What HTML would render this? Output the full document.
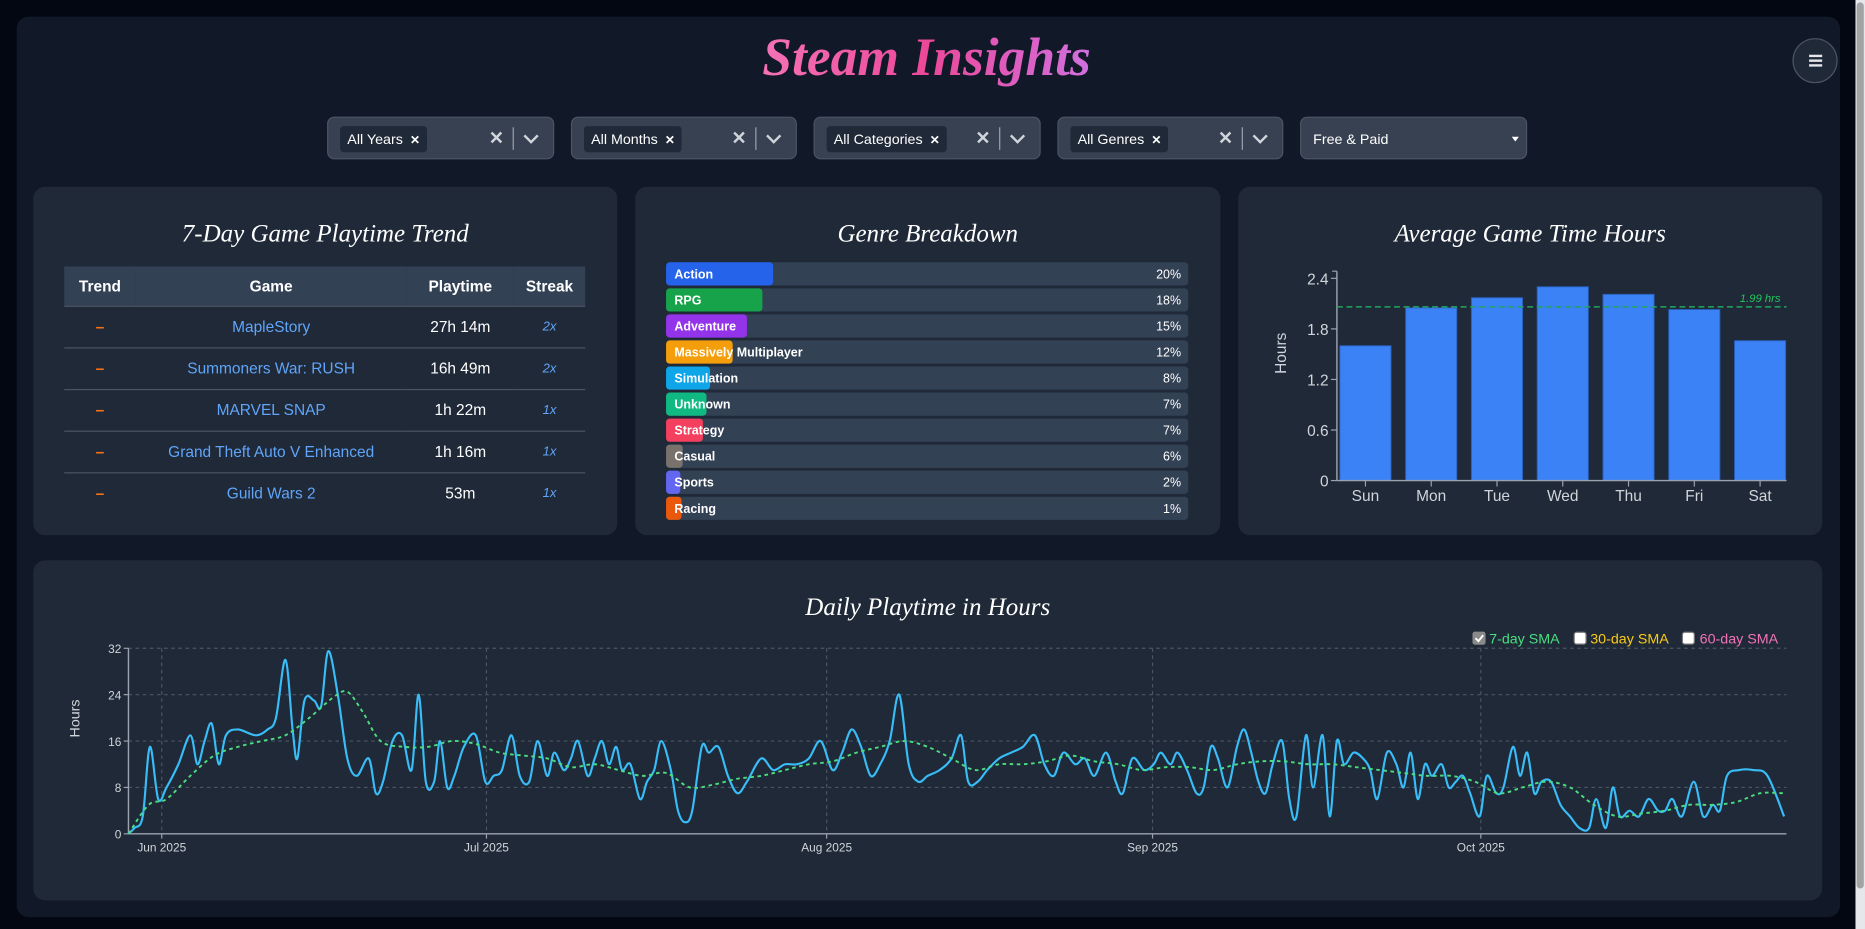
<!DOCTYPE html>
<html><head><meta charset="utf-8">
<style>
html,body{margin:0;padding:0;background:#030712;overflow:hidden;width:1865px;height:929px}
#stage{position:absolute;left:0;top:0;width:1568px;height:781px;transform:scale(1.18941,1.1895);transform-origin:0 0;font-family:"Liberation Sans",sans-serif;color:#fff}
.abs{position:absolute}
.panel{position:absolute;background:#1f2937;border-radius:10px}
.ptitle{position:absolute;left:0;right:0;text-align:center;font-family:"Liberation Serif",serif;font-style:italic;font-size:21px;color:#fff}
.filter{position:absolute;top:98px;height:36px;background:#374151;border:1px solid #4b5563;border-radius:6px;box-sizing:border-box}
.chip{position:absolute;left:10px;top:7px;height:22px;background:#1f2937;border-radius:3px;font-size:12px;line-height:22px;padding:0 6px;color:#fff}
.chip b{font-size:10px;margin-left:6px}
.clr{position:absolute;top:8px;font-size:15px;color:#d1d5db;font-weight:bold}
.sep{position:absolute;top:8px;width:1px;height:19px;background:#9ca3af}
.chev{position:absolute;top:11px;width:7px;height:7px;border-right:2px solid #d1d5db;border-bottom:2px solid #d1d5db;transform:rotate(45deg)}
table{border-collapse:collapse;font-size:13px}
td,th{text-align:center;padding:0}
.row td{height:34px;border-top:1px solid #4b5563}
</style></head><body>
<div id="stage">
<div class="abs" style="left:14px;top:14px;width:1533px;height:757px;background:#111827;border-radius:10px"></div>
<div class="abs" style="left:1560px;top:0;width:8px;height:781px;background:#e5e7eb"></div>
<div class="abs" style="left:1561px;top:2px;width:6px;height:745px;background:#a3a3a3;border-radius:3px"></div>
<div class="abs" style="left:0;width:1558px;top:22px;text-align:center;font-family:'Liberation Serif',serif;font-style:italic;font-weight:bold;font-size:45px;"><span style="background:linear-gradient(90deg,#f472b6,#ec4899 50%,#d070e0);-webkit-background-clip:text;background-clip:text;color:transparent">Steam Insights</span></div>
<div class="abs" style="left:1507px;top:32px;width:38px;height:38px;border-radius:50%;background:#1f2937;border:1px solid #4b5563;box-sizing:border-box"></div>
<div class="abs" style="left:1521px;top:46px;width:11px;height:1.5px;background:#e5e7eb;box-shadow:0 4px 0 #e5e7eb,0 8px 0 #e5e7eb"></div>

<div class="filter" style="left:275px;width:191px"><div class="chip">All Years<b>✕</b></div><div class="clr" style="left:135px">✕</div><div class="sep" style="left:155px"></div><div class="chev" style="left:166px"></div></div>
<div class="filter" style="left:480px;width:190px"><div class="chip">All Months<b>✕</b></div><div class="clr" style="left:134px">✕</div><div class="sep" style="left:154px"></div><div class="chev" style="left:165px"></div></div>
<div class="filter" style="left:684px;width:191px"><div class="chip">All Categories<b>✕</b></div><div class="clr" style="left:135px">✕</div><div class="sep" style="left:155px"></div><div class="chev" style="left:166px"></div></div>
<div class="filter" style="left:889px;width:190px"><div class="chip">All Genres<b>✕</b></div><div class="clr" style="left:134px">✕</div><div class="sep" style="left:154px"></div><div class="chev" style="left:165px"></div></div>
<div class="filter" style="left:1093px;width:191px;background:#374151"><div class="abs" style="left:10px;top:11px;font-size:12px">Free &amp; Paid</div><div class="abs" style="left:177px;top:16px;width:0;height:0;border-left:3.5px solid transparent;border-right:3.5px solid transparent;border-top:4px solid #fff"></div></div>

<!-- Panel 1 -->
<div class="panel" style="left:28px;top:157px;width:491px;height:293px">
<div class="ptitle" style="top:27px">7-Day Game Playtime Trend</div>
<table class="abs" style="left:26px;top:67px;width:438px">
<tr style="background:#334155;height:33px;font-weight:bold"><th style="width:60px">Trend</th><th>Game</th><th style="width:90px">Playtime</th><th style="width:60px">Streak</th></tr>
<tr class="row"><td style="color:#f97316;font-weight:bold">–</td><td style="color:#60a5fa">MapleStory</td><td>27h 14m</td><td style="color:#60a5fa;font-style:italic;font-size:11px">2x</td></tr>
<tr class="row"><td style="color:#f97316;font-weight:bold">–</td><td style="color:#60a5fa">Summoners War: RUSH</td><td>16h 49m</td><td style="color:#60a5fa;font-style:italic;font-size:11px">2x</td></tr>
<tr class="row"><td style="color:#f97316;font-weight:bold">–</td><td style="color:#60a5fa">MARVEL SNAP</td><td>1h 22m</td><td style="color:#60a5fa;font-style:italic;font-size:11px">1x</td></tr>
<tr class="row"><td style="color:#f97316;font-weight:bold">–</td><td style="color:#60a5fa">Grand Theft Auto V Enhanced</td><td>1h 16m</td><td style="color:#60a5fa;font-style:italic;font-size:11px">1x</td></tr>
<tr class="row"><td style="color:#f97316;font-weight:bold">–</td><td style="color:#60a5fa">Guild Wars 2</td><td>53m</td><td style="color:#60a5fa;font-style:italic;font-size:11px">1x</td></tr>
</table>
</div>

<!-- Panel 2 -->
<div class="panel" style="left:534px;top:157px;width:492px;height:293px">
<div class="ptitle" style="top:27px">Genre Breakdown</div>
</div>

<!-- Panel 3 -->
<div class="panel" style="left:1041px;top:157px;width:491px;height:293px">
<div class="ptitle" style="top:27px">Average Game Time Hours</div>
</div>

<!-- Bottom panel -->
<div class="panel" style="left:28px;top:471px;width:1504px;height:286px">
<div class="ptitle" style="top:27px">Daily Playtime in Hours</div>
</div>

<svg id="svg" class="abs" style="left:0;top:0" width="1568" height="781" font-family="Liberation Sans, sans-serif"></svg>
</div>
<script>
var NS="http://www.w3.org/2000/svg",svg=document.getElementById('svg');
function el(t,a,txt){var e=document.createElementNS(NS,t);for(var k in a)e.setAttribute(k,a[k]);if(txt!=null)e.textContent=txt;svg.appendChild(e);return e;}
var G=[["Action","#2563eb",650,"20%"],["RPG","#16a34a",641,"18%"],["Adventure","#9333ea",628,"15%"],["Massively Multiplayer","#f59e0b",616,"12%"],["Simulation","#0ea5e9",597,"8%"],["Unknown","#10b981",594,"7%"],["Strategy","#f43f5e",591,"7%"],["Casual","#78716c",574,"6%"],["Sports","#6366f1",572,"2%"],["Racing","#ea580c",573,"1%"]];
G.forEach(function(g,i){var y=220.5+i*21.9;
el('rect',{x:560,y:y,width:439,height:19.5,rx:3,fill:'#334155'});
el('rect',{x:560,y:y,width:g[2]-560,height:19.5,rx:3,fill:g[1]});
el('text',{x:567,y:y+13.5,'font-size':10.5,'font-weight':'bold',fill:'#fff'},g[0]);
el('text',{x:993,y:y+13.5,'font-size':10.5,fill:'#fff','text-anchor':'end'},g[3]);});
var ax=1124,y0=404,sc=170/2.4;
[0,0.6,1.2,1.8,2.4].forEach(function(v){var y=y0-v*sc;el('line',{x1:ax-5,x2:ax,y1:y,y2:y,stroke:'#9ca3af'});el('text',{x:ax-7,y:y+5,'font-size':13,fill:'#d1d5db','text-anchor':'end'},v===0?'0':v.toFixed(1));});
var D=[["Sun",1.6],["Mon",2.05],["Tue",2.17],["Wed",2.3],["Thu",2.21],["Fri",2.03],["Sat",1.66]];
D.forEach(function(d,i){var c=1148+i*55.3;var h=d[1]*sc;el('rect',{x:c-21.5,y:y0-h,width:43,height:h,fill:'#3b82f6',stroke:'#2a5fb8','stroke-width':0.8});
el('line',{x1:c,x2:c,y1:y0,y2:y0+5,stroke:'#9ca3af'});el('text',{x:c,y:y0+17,'font-size':13,fill:'#d1d5db','text-anchor':'middle'},d[0]);});
el('line',{x1:ax,x2:ax,y1:228,y2:y0,stroke:'#9ca3af','stroke-width':1.2});
el('line',{x1:ax-4,x2:ax,y1:228,y2:228,stroke:'#9ca3af'});
el('line',{x1:ax,x2:1502,y1:y0,y2:y0,stroke:'#9ca3af','stroke-width':1.2});
el('line',{x1:ax,x2:1502,y1:258,y2:258,stroke:'#22a55e','stroke-width':1.2,'stroke-dasharray':'5,3'});
el('text',{x:1497,y:254,'font-size':9.5,'font-style':'italic',fill:'#22c55e','text-anchor':'end'},'1.99 hrs');
el('text',{x:0,y:0,'font-size':13,fill:'#d1d5db','text-anchor':'middle',transform:'translate(1081,297) rotate(-90)'},'Hours');
var Y0=701,S=156/32,X0=108,X1=1502;
[0,8,16,24,32].forEach(function(v){var y=Y0-v*S;if(v>0)el('line',{x1:X0,x2:X1,y1:y,y2:y,stroke:'#4b5563','stroke-dasharray':'3,3'});el('line',{x1:X0-4,x2:X0,y1:y,y2:y,stroke:'#9ca3af'});el('text',{x:X0-6,y:y+4,'font-size':10,fill:'#d1d5db','text-anchor':'end'},v);});
[[136,'Jun 2025'],[409,'Jul 2025'],[695,'Aug 2025'],[969,'Sep 2025'],[1245,'Oct 2025']].forEach(function(m){el('line',{x1:m[0],x2:m[0],y1:545,y2:Y0,stroke:'#4b5563','stroke-dasharray':'3,3'});el('line',{x1:m[0],x2:m[0],y1:Y0,y2:Y0+4,stroke:'#9ca3af'});el('text',{x:m[0],y:Y0+15,'font-size':10,fill:'#d1d5db','text-anchor':'middle'},m[1]);});
el('line',{x1:X0,x2:X0,y1:545,y2:Y0,stroke:'#9ca3af','stroke-width':1.2});
el('line',{x1:X0,x2:X1,y1:Y0,y2:Y0,stroke:'#9ca3af','stroke-width':1.2});
el('text',{x:0,y:0,'font-size':12,fill:'#d1d5db','text-anchor':'middle',transform:'translate(67,604) rotate(-90)'},'Hours');
var P=[108,0,113,1,120,3,126,15,133,6,140,8,150,12,160,17,166,12,172,16,178,19,184,12,190,17,200,18,215,17,225,18,232,20,240,30,246,18,250,13,256,23,264,23,270,22,276,31.5,284,24,292,13,300,10,310,13,316,7,322,9,330,16,338,17,346,11,352,24,358,9,365,9,370,16,376,8,382,10,390,15,400,17,408,9,415,10,422,11,430,17,437,10,445,9,452,16,460,10,466,14,474,11,480,13,486,16,494,10,500,13,506,16,512,12,518,15,523,11,530,12,538,6,544,9,550,11,556,16,564,11,570,4,576,2,582,4,590,15,596,14,604,15,612,10,620,7,628,9,640,13,650,11,660,12,670,12,680,13,690,16,700,11,708,14,716,18,724,15,732,10,740,12,748,16,756,24,764,12,772,9,780,10,790,11,800,13,808,17,814,9,822,9,830,11,840,13,850,14,860,15,870,17,878,12,886,10,894,14,904,12,912,13,920,10,930,14,938,9,944,7,952,13,962,11,970,12,976,14,984,12,990,14,998,11,1006,7,1012,8,1018,15,1024,13,1032,8,1040,15,1046,18,1052,14,1058,9,1064,7,1070,12,1078,16,1084,6,1090,3,1098,17,1104,8,1112,17,1118,3,1124,16,1130,12,1138,14,1146,13,1152,11,1158,6,1166,14,1174,12,1180,8,1186,14,1192,6,1198,12,1204,10,1212,12,1218,8,1224,9,1230,10,1236,7,1244,3,1250,10,1258,7,1264,8,1272,15,1278,10,1284,14,1290,7,1296,9,1304,9,1312,5,1320,3,1328,1,1336,1,1342,6,1350,1,1356,8,1362,3,1370,4,1378,3,1386,6,1394,4,1400,4,1406,6,1414,3,1424,9,1432,3,1440,5,1446,4,1452,10,1462,11,1474,11,1486,10,1500,3];
var Q=[108,0,125,5,140,6,160,10,180,13.5,200,15,220,16,240,17,260,20,280,23.5,292,24.5,305,21,320,16,340,15,360,15,380,16,400,15.5,420,14,440,13.5,460,13,480,11.5,500,12,520,11,540,10,560,10.5,580,8,600,8.5,620,9.5,640,10,660,11,680,12,700,12.5,720,14,740,15,760,16,780,15,800,13,820,11,840,12,860,12,880,12.5,900,13.5,920,12.5,940,12,960,11,980,11.5,1000,11.5,1020,11,1040,12,1060,12.5,1080,12.5,1100,12,1120,12,1140,11.5,1160,11,1180,10.5,1200,10,1220,10,1240,9,1260,7,1280,8,1300,9,1320,8,1340,5,1360,3,1380,3.5,1400,4,1420,5,1440,5,1460,5.5,1480,7,1500,7];
function path(A){var p=[];for(var i=0;i<A.length;i+=2)p.push([A[i],Y0-A[i+1]*S]);var d='M'+p[0][0]+','+p[0][1];
for(var i=0;i<p.length-1;i++){var a=p[i-1]||p[i],b=p[i],c=p[i+1],e=p[i+2]||c;
d+='C'+(b[0]+(c[0]-a[0])/6)+','+(b[1]+(c[1]-a[1])/6)+' '+(c[0]-(e[0]-b[0])/6)+','+(c[1]-(e[1]-b[1])/6)+' '+c[0]+','+c[1];}return d;}
el('path',{d:path(P),fill:'none',stroke:'#38bdf8','stroke-width':1.8});
el('path',{d:path(Q),fill:'none',stroke:'#4ade80','stroke-width':1.6,'stroke-dasharray':'3,3'});
el('rect',{x:1238,y:531,width:11,height:11,rx:2,fill:'#8a8a8a'});
el('path',{d:'M1240.5,536.5 l2.5,2.5 l4,-5',fill:'none',stroke:'#fff','stroke-width':1.6});
el('text',{x:1252,y:541,'font-size':12,fill:'#4ade80'},'7-day SMA');
el('rect',{x:1323.5,y:531.5,width:10,height:10,rx:2,fill:'#fff',stroke:'#777'});
el('text',{x:1337,y:541,'font-size':12,fill:'#facc15'},'30-day SMA');
el('rect',{x:1414.5,y:531.5,width:10,height:10,rx:2,fill:'#fff',stroke:'#777'});
el('text',{x:1429,y:541,'font-size':12,fill:'#f472b6'},'60-day SMA');
</script>
</body></html>
